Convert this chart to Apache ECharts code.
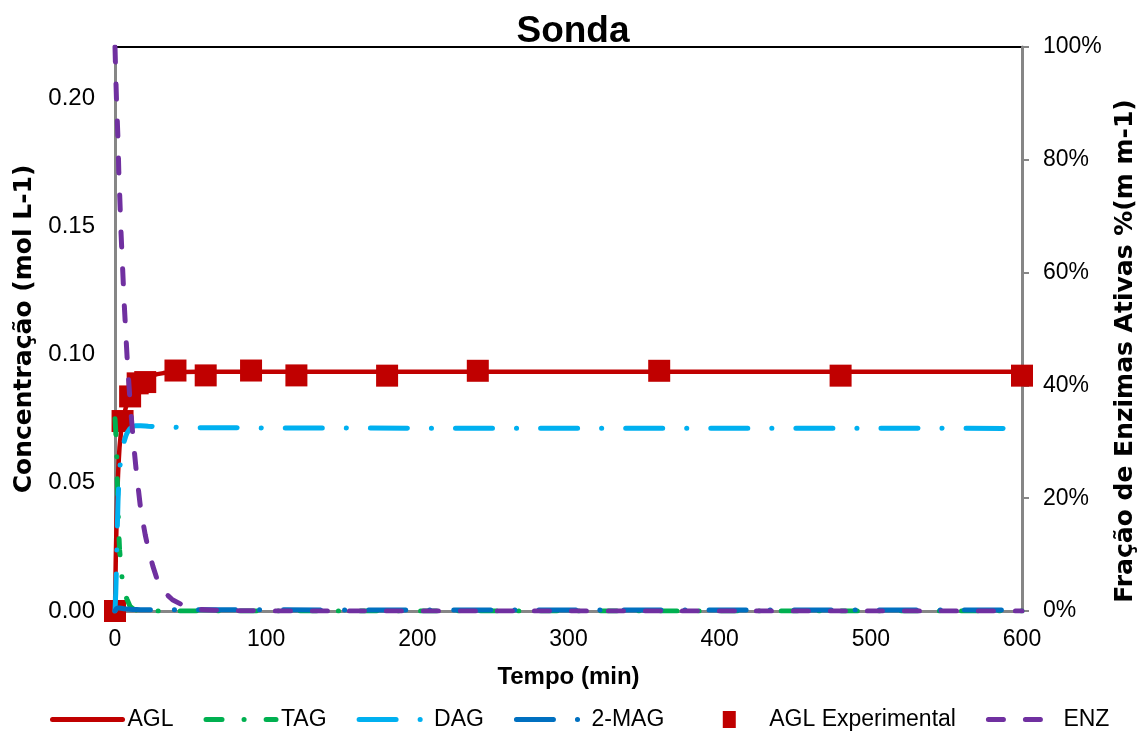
<!DOCTYPE html>
<html>
<head>
<meta charset="utf-8">
<script src="https://cdn.jsdelivr.net/npm/echarts@6/dist/echarts.min.js"></script>
<style>
   html, body { margin: 0; padding: 0; background: #fff; }
   #chart { width: 1146px; height: 731px; }
</style>
</head>
<body>
<div id="chart"></div>
<script>
// tempo do modelo (min)
var tempoModelo = [ 0, 0.5, 1, 1.5, 2, 2.5, 3, 4, 5, 6, 7, 8, 10, 12, 14, 17, 20, 22, 25, 28, 32, 38, 45, 55, 70, 100, 150, 200, 300, 400, 500, 600 ] ;
// concentracoes do modelo (mol L-1)
var agl = [ 0, 0.020, 0.034, 0.045, 0.053, 0.059, 0.064, 0.070, 0.074, 0.0765, 0.079, 0.081, 0.084, 0.0862, 0.0876, 0.0893, 0.0905, 0.0912, 0.0919, 0.0924, 0.0928, 0.0931, 0.0932, 0.0933, 0.0933, 0.0933, 0.0933, 0.0933, 0.0933, 0.0933, 0.0933, 0.0933 ] ;
var tag = [ 0.075, 0.070, 0.064, 0.052, 0.040, 0.031, 0.024, 0.017, 0.011, 0.008, 0.006, 0.0045, 0.0018, 0.0008, 0.0004, 0.0002, 0.0001, 0, 0, 0, 0, 0, 0, 0, 0, 0, 0, 0, 0, 0, 0, 0 ] ;
var dag = [ 0, 0.007, 0.018, 0.032, 0.043, 0.050, 0.055, 0.060, 0.0635, 0.066, 0.068, 0.0695, 0.0712, 0.0720, 0.0723, 0.0723, 0.0722, 0.0721, 0.0720, 0.0719, 0.0718, 0.0717, 0.0716, 0.0715, 0.0715, 0.0714, 0.0714, 0.0713, 0.0713, 0.0713, 0.0713, 0.0712 ] ;
var mag = [ 0, 0.0006, 0.0010, 0.0012, 0.0012, 0.0012, 0.0012, 0.0011, 0.0010, 0.0009, 0.0008, 0.0008, 0.0007, 0.0006, 0.0006, 0.0005, 0.0005, 0.0005, 0.0005, 0.0005, 0.0005, 0.0005, 0.0005, 0.0005, 0.0005, 0.0005, 0.0004, 0.0004, 0.0004, 0.0004, 0.0004, 0.0004 ] ;
// fracao de enzimas ativas (%)
var enz = [ 100, 95, 90.5, 87, 83.5, 78, 74.5, 67, 61, 55, 50, 45, 37, 30.5, 25, 18, 13.5, 11, 8, 5.5, 3.5, 2, 1, 0.3, 0.1, 0, 0, 0, 0, 0, 0, 0 ] ;
// pontos experimentais
var tempoExp = [ 0, 5, 10, 15, 20, 40, 60, 90, 120, 180, 240, 360, 480, 600 ] ;
var aglExp = [ 0, 0.0741, 0.0837, 0.0888, 0.0893, 0.0938, 0.0919, 0.0938, 0.0919, 0.0918, 0.0937, 0.0937, 0.0918, 0.0918 ] ;
var ticksX = [ 0, 600, 100 ] ;
var ticksY = [ 0, 0.22, 0.05 ] ;
var ticksY2 = [ 0, 100, 20 ] ;

function pares( xs, ys )
{
   return xs.map( function( x, i ){ return [ x, ys[i] ] ; } ) ;
}

var font = 'Liberation Sans, Arial, sans-serif' ;
var fontNome = 'DejaVu Sans, Liberation Sans, sans-serif' ;
var cinza = '#868686' ;

var chart = echarts.init( document.getElementById( 'chart' ), null, { renderer: 'canvas' } ) ;
var option = {
   animation: false,
   backgroundColor: '#fff',
   textStyle: { fontFamily: font },
   title: {
      text: 'Sonda', left: 'center', top: 8,
      textStyle: { fontFamily: font, fontSize: 37, fontWeight: 'bold', color: '#000' }
   },
   legend: {
      left: 45, top: 703,
      itemWidth: 70, itemHeight: 17, itemGap: 30,
      textStyle: { fontFamily: font, fontSize: 23, color: '#000' },
      lineStyle: { width: 5 },
      itemStyle: { opacity: 0 },
      data: [ 'AGL', 'TAG', 'DAG', '2-MAG',
              { name: 'AGL Experimental', icon: 'path://M0,0M70,17M28.5,0h13v17h-13z', itemStyle: { opacity: 1 } },
              'ENZ' ]
   },
   grid: {
      left: 115, right: 124, top: 47, bottom: 120,
      show: true, borderColor: '#000', borderWidth: 2, backgroundColor: 'transparent'
   },
   xAxis: {
      type: 'value', min: ticksX[0], max: ticksX[1], interval: ticksX[2],
      name: 'Tempo (min)', nameLocation: 'middle', nameGap: 54,
      nameTextStyle: { fontFamily: font, fontSize: 24, fontWeight: 'bold', color: '#000' },
      axisLine: { show: true, onZero: false, lineStyle: { color: cinza, width: 3 } },
      axisTick: { show: false },
      splitLine: { show: false },
      axisLabel: { fontSize: 23, color: '#000', margin: 17 }
   },
   yAxis: [ {
      type: 'value', min: ticksY[0], max: ticksY[1], interval: ticksY[2],
      name: 'Concentração (mol L-1)', nameLocation: 'middle', nameGap: 77,
      nameTextStyle: { fontFamily: fontNome, fontSize: 25, fontWeight: 'bold', color: '#000' },
      axisLine: { show: true, onZero: false, lineStyle: { color: cinza, width: 3 } },
      axisTick: { show: false },
      splitLine: { show: false },
      axisLabel: {
         fontSize: 24, color: '#000', margin: 20, showMaxLabel: false,
         formatter: function( v ){ return v > 0.21 ? '' : v.toFixed( 2 ) ; }
      }
   }, {
      type: 'value', position: 'right', min: ticksY2[0], max: ticksY2[1], interval: ticksY2[2],
      name: 'Fração de Enzimas Ativas %(m m-1)', nameLocation: 'middle', nameGap: 90,
      nameTextStyle: { fontFamily: fontNome, fontSize: 25, fontWeight: 'bold', color: '#000', padding: [ 0, 44, 0, 0 ] },
      axisLine: { show: true, onZero: false, lineStyle: { color: cinza, width: 3 } },
      axisTick: { show: true, inside: false, length: 7, lineStyle: { color: cinza, width: 2 } },
      splitLine: { show: false },
      axisLabel: { fontSize: 23, color: '#000', margin: 21, formatter: '{value}%' }
   } ],
   series: [ {
      name: 'AGL', type: 'line', symbol: 'none', data: pares( tempoModelo, agl ),
      itemStyle: { color: '#C00000' },
      lineStyle: { color: '#C00000', width: 4.5, cap: 'round' }
   }, {
      name: 'TAG', type: 'line', symbol: 'none', data: pares( tempoModelo, tag ),
      itemStyle: { color: '#00B050' },
      lineStyle: { color: '#00B050', width: 5, type: [ 16, 22, 0.1, 22 ], cap: 'round' }
   }, {
      name: 'DAG', type: 'line', symbol: 'none', data: pares( tempoModelo, dag ),
      itemStyle: { color: '#00B0F0' },
      lineStyle: { color: '#00B0F0', width: 5, type: [ 37, 24, 0.1, 24 ], cap: 'round' }
   }, {
      name: '2-MAG', type: 'line', symbol: 'none', data: pares( tempoModelo, mag ),
      itemStyle: { color: '#0070C0' },
      lineStyle: { color: '#0070C0', width: 5, type: [ 37, 24, 0.1, 24 ], cap: 'round' }
   }, {
      name: 'AGL Experimental', type: 'scatter', symbol: 'rect', symbolSize: 22,
      data: pares( tempoExp, aglExp ),
      itemStyle: { color: '#C00000', opacity: 1 }
   }, {
      name: 'ENZ', type: 'line', symbol: 'none', yAxisIndex: 1, data: pares( tempoModelo, enz ),
      itemStyle: { color: '#7030A0' },
      lineStyle: { color: '#7030A0', width: 5, type: [ 15, 22 ], cap: 'round' }
   } ]
} ;
chart.setOption( option ) ;
</script>
</body>
</html>
